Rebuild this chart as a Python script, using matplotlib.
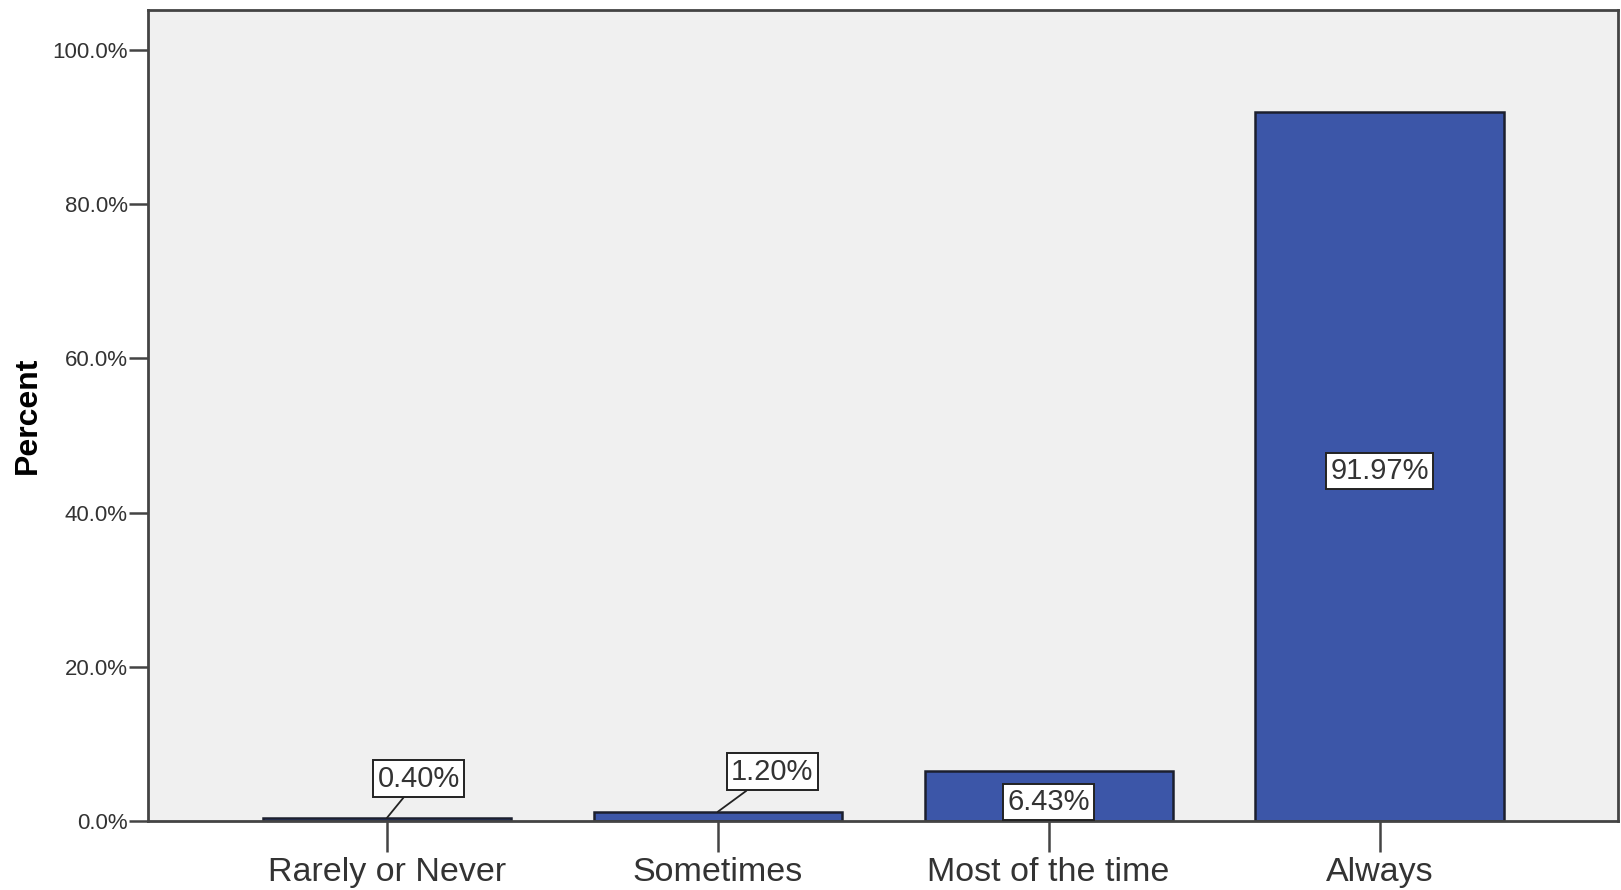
import matplotlib.pyplot as plt
from matplotlib.ticker import FuncFormatter

plt.rcParams["font.family"] = ["Liberation Sans", "DejaVu Sans"]

categories = ["Rarely or Never", "Sometimes", "Most of the time", "Always"]
percent = [0.40, 1.20, 6.43, 91.97]
bar_labels = ["0.40%", "1.20%", "6.43%", "91.97%"]
yticks = [0, 20, 40, 60, 80, 100]

# value box offset from bar centre (x) and height (y, data units)
label_dx = [0.097, 0.165, 0.0, 0.0]
label_y = [5.5, 6.4, 2.46, 45.4]

fig = plt.figure(figsize=(16.21, 8.9), dpi=100)
ax = fig.add_axes([0.0913, 0.0775, 0.9067, 0.9113])
ax.set_facecolor("#f0f0f0")

x = range(len(categories))
ax.bar(x, percent, width=0.75, color="#3c56a8", edgecolor="#1c1f2e", linewidth=1.8, zorder=2)

box = dict(boxstyle="square,pad=0.15", fc="white", ec="#222222", lw=1.4)
for i in x:
    if label_dx[i] == 0:
        ax.text(i, label_y[i], bar_labels[i], ha="center", va="center", fontsize=21,
                color="#333333", bbox=box, zorder=4)
    else:
        ax.annotate(bar_labels[i], xy=(i, percent[i]), xytext=(i + label_dx[i], label_y[i]),
                    ha="center", va="center", fontsize=21, color="#333333",
                    bbox=box, zorder=4,
                    arrowprops=dict(arrowstyle="-", color="#222222", lw=1.3,
                                    shrinkA=0, shrinkB=0))

ax.set_xlim(-0.722, 3.72)
ax.set_ylim(0, 105.2)
ax.set_xticks(list(x))
ax.set_xticklabels(categories, fontsize=24.5, color="#333333")
ax.set_yticks(yticks)
ax.yaxis.set_major_formatter(FuncFormatter(lambda v, p: f"{v:.1f}%"))
ax.tick_params(axis="y", labelsize=16, length=14, width=1.8, color="#444444",
               labelcolor="#333333", pad=0.5)
ax.tick_params(axis="x", length=22, width=1.8, color="#444444", pad=4)
ax.set_ylabel("Percent", fontsize=23, fontweight="bold", labelpad=7)

for s in ax.spines.values():
    s.set_linewidth(2)
    s.set_color("#444444")

fig.savefig("out.png", dpi=100, facecolor="white")
